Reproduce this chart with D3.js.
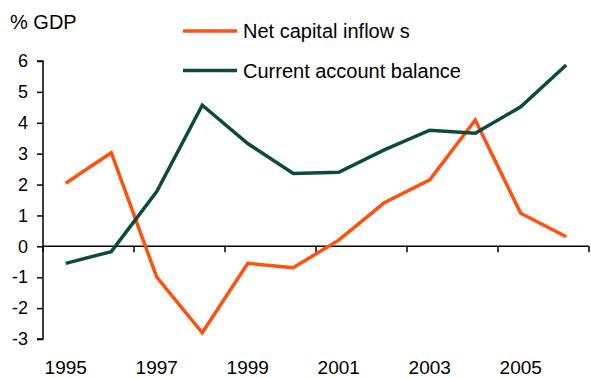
<!DOCTYPE html>
<html>
<head>
<meta charset="utf-8">
<script src="https://cdn.jsdelivr.net/npm/d3@7"></script>
<style>
  html, body { margin: 0; padding: 0; background: #fff; }
  svg { display: block; font-family: Arial, "Liberation Sans", sans-serif; }
</style>
</head>
<body>
<svg id="chart" width="591" height="378"></svg>
<script>
// Years on the category axis
const years = [1995, 1996, 1997, 1998, 1999, 2000, 2001, 2002, 2003, 2004, 2005, 2006];
// Net capital inflows, % of GDP
const netCapitalInflows = [2.04, 3.03, -1.0, -2.8, -0.55, -0.69, 0.2, 1.41, 2.15, 4.09, 1.07, 0.31];
// Current account balance, % of GDP
const currentAccount = [-0.55, -0.17, 1.77, 4.57, 3.33, 2.36, 2.4, 3.12, 3.76, 3.66, 4.52, 5.87];
// Axis ticks
const yTicks = [-3, -2, -1, 0, 1, 2, 3, 4, 5, 6];
const xTickLabels = [1995, 1997, 1999, 2001, 2003, 2005];
const seriesNames = ["Net capital inflow s", "Current account balance"];

const colors = ["#FF5010", "#0B4A3C"];

const svg = d3.select("#chart");
const plot = { left: 43, right: 589, top: 61, bottom: 339 };

const y = d3.scaleLinear().domain([-3, 6]).range([plot.bottom, plot.top]);
const x = d3.scaleBand().domain(years).range([plot.left, plot.right]).paddingInner(0).paddingOuter(0);
const cx = d => x(d) + x.bandwidth() / 2;

// Y axis
const yAxis = d3.axisLeft(y).tickValues(yTicks).tickSize(6).tickPadding(9).tickFormat(d3.format("d"));
const gy = svg.append("g").attr("transform", `translate(${plot.left},0)`).call(yAxis);
gy.select(".domain").attr("stroke", "#000").attr("stroke-width", 1.5)
  .attr("d", `M-6,${plot.top}H0V${plot.bottom}H-6`);
gy.selectAll(".tick line").attr("stroke", "#000").attr("stroke-width", 1.5);
gy.selectAll(".tick text").attr("font-size", 18).attr("fill", "#000")
  .attr("font-family", "Arial, 'Liberation Sans', sans-serif")
  .text(d => d < 0 ? "-" + Math.abs(d) : d);

// Zero line with category-boundary ticks every two years
const boundaries = d3.range(0, years.length + 1, 2).map(i => plot.left + i * x.bandwidth());
const gx = svg.append("g");
gx.append("line").attr("x1", plot.left).attr("x2", plot.right).attr("y1", y(0)).attr("y2", y(0))
  .attr("stroke", "#000").attr("stroke-width", 1.5);
gx.selectAll("line.tk").data(boundaries).join("line").attr("class", "tk")
  .attr("x1", d => d).attr("x2", d => d).attr("y1", y(0)).attr("y2", y(0) + 6)
  .attr("stroke", "#000").attr("stroke-width", 1.5);

// Year labels along the bottom
svg.append("g").selectAll("text").data(xTickLabels).join("text")
  .attr("x", d => cx(d)).attr("y", 374)
  .attr("text-anchor", "middle").attr("font-size", 19).attr("fill", "#000")
  .text(d => d);

// Unit label
svg.append("text").attr("x", 10).attr("y", 29).attr("font-size", 20).attr("fill", "#000").text("% GDP");

// Series lines
const line = d3.line().x((d, i) => cx(years[i])).y(d => y(d));
[netCapitalInflows, currentAccount].forEach((s, k) => {
  svg.append("path").datum(s).attr("d", line)
    .attr("fill", "none").attr("stroke", colors[k]).attr("stroke-width", 3.5)
    .attr("stroke-linejoin", "miter").attr("stroke-linecap", "butt");
});

// Legend
const legend = svg.append("g");
[31, 70.5].forEach((ly, k) => {
  legend.append("line").attr("x1", 183).attr("x2", 237).attr("y1", ly).attr("y2", ly)
    .attr("stroke", colors[k]).attr("stroke-width", 3.5);
  legend.append("text").attr("x", 243).attr("y", ly + 7).attr("font-size", 20).attr("fill", "#000")
    .text(seriesNames[k]);
});
</script>
</body>
</html>
